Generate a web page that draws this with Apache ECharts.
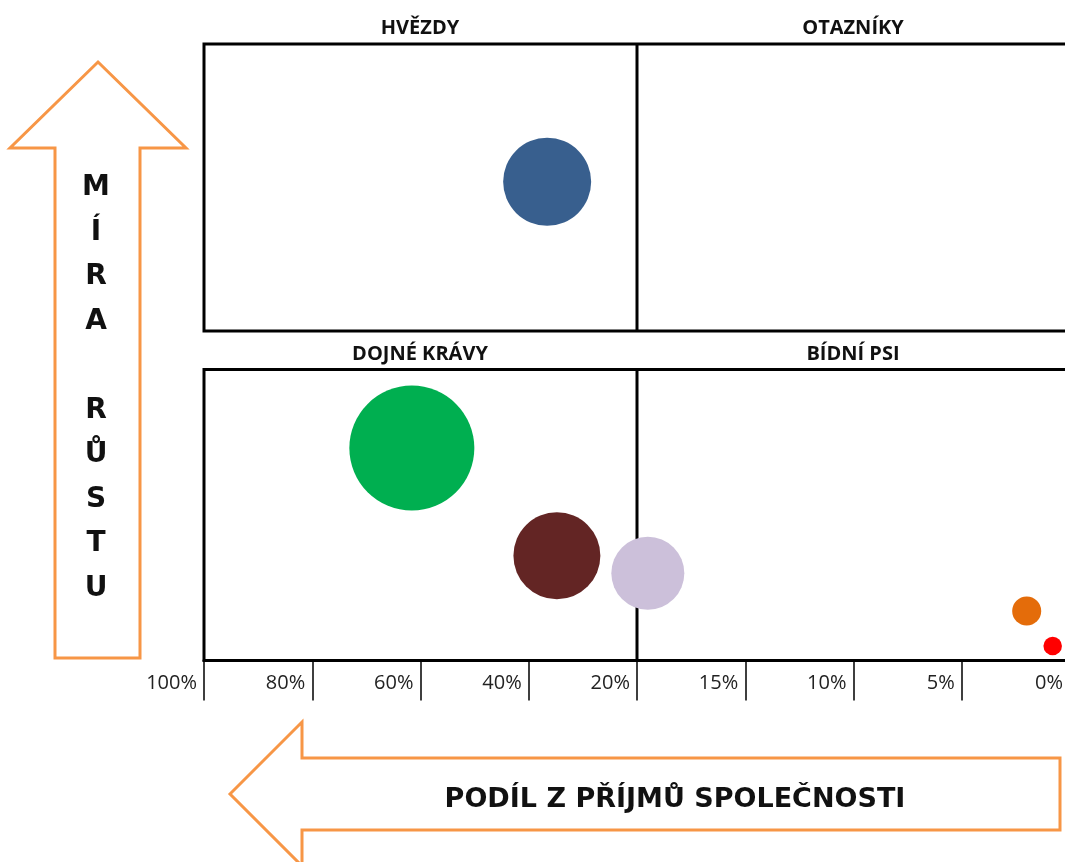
<!DOCTYPE html>
<html>
<head>
<meta charset="utf-8">
<script src="https://cdn.jsdelivr.net/npm/echarts@6/dist/echarts.min.js"></script>
<style>
  html, body { margin: 0; padding: 0; background: #fff; }
  #chart { width: 1065px; height: 862px; }
</style>
</head>
<body>
<div id="chart"></div>
<script>
// share of company revenue (%) at each x tick, left to right (piecewise scale)
const shareTicks = [100, 80, 60, 40, 20, 15, 10, 5, 0];
const quadrantNames = ['HVĚZDY', 'OTAZNÍKY', 'DOJNÉ KRÁVY', 'BÍDNÍ PSI'];

// bubbles: share (%), growth (%), weight (bubble area)
const bubbleShare  = [36.6, 61.6, 34.8, 19.5, 2.0, 0.8];
const bubbleGrowth = [15.2, 7.3, 3.6, 3.0, 1.7, 0.5];
const bubbleWeight = [49.6, 100, 48.4, 34.1, 5.4, 2.2];
const bubbleColors = ['#385F8E', '#00AF50', '#632524', '#CCC0DA', '#E46C0A', '#FF0000'];

const growthTop = [10, 20];
const growthBottom = [0, 10];
const splitShare = 20;

const ORANGE = '#F79646';
const FONT = '"Open Sans", sans-serif';

// map a share value onto the evenly spaced tick index
function shareToPos(s) {
  for (let i = 0; i < shareTicks.length - 1; i++) {
    const a = shareTicks[i], b = shareTicks[i + 1];
    if (s <= a && s >= b) return i + (a - s) / (a - b);
  }
  return s > shareTicks[0] ? 0 : shareTicks.length - 1;
}

const topData = [], bottomData = [];
bubbleShare.forEach((s, i) => {
  const item = {
    value: [shareToPos(s), bubbleGrowth[i], bubbleWeight[i]],
    itemStyle: { color: bubbleColors[i], opacity: 1 }
  };
  (bubbleGrowth[i] >= growthTop[0] ? topData : bottomData).push(item);
});

const chart = echarts.init(document.getElementById('chart'));

const xBase = {
  type: 'value',
  min: 0,
  max: shareTicks.length - 1,
  interval: 1,
  splitLine: { show: false }
};

function divider(xi, range) {
  const p = shareToPos(splitShare);
  return {
    type: 'line',
    xAxisIndex: xi,
    yAxisIndex: xi,
    data: [[p, range[0]], [p, range[1]]],
    symbol: 'none',
    silent: true,
    z: 1,
    lineStyle: { color: '#000', width: 3 }
  };
}

function title(text, x, y) {
  return {
    type: 'text', x: x, y: y, silent: true,
    style: { text: text, font: 'bold 20px ' + FONT, fill: '#111', align: 'center', verticalAlign: 'middle' }
  };
}

// grid runs a few px past the right edge, so its right border is cut off
const gridBase = {
  left: 204, width: 866, show: true, borderColor: '#000', borderWidth: 3,
  backgroundColor: '#fff', containLabel: false, outerBoundsMode: 'none'
};

const option = {
  animation: false,
  grid: [
    Object.assign({}, gridBase, { top: 44, height: 287 }),
    Object.assign({}, gridBase, { top: 369.5, height: 291 })
  ],
  xAxis: [
    Object.assign({}, xBase, { gridIndex: 0, show: false }),
    Object.assign({}, xBase, {
      gridIndex: 1,
      axisLine: { show: true, lineStyle: { color: '#000', width: 3 } },
      axisTick: { show: true, length: 40, lineStyle: { color: '#000', width: 1.5 } },
      axisLabel: {
        show: true,
        showMinLabel: true,
        showMaxLabel: true,
        hideOverlap: false,
        formatter: v => shareTicks[v] + '%',
        fontFamily: FONT,
        fontSize: 20,
        color: '#222',
        align: 'right',
        verticalAlign: 'middle',
        margin: 23,
        padding: [0, 7, 0, 0]
      }
    })
  ],
  yAxis: [
    { type: 'value', gridIndex: 0, min: growthTop[0], max: growthTop[1], show: false },
    { type: 'value', gridIndex: 1, min: growthBottom[0], max: growthBottom[1], show: false }
  ],
  series: [
    divider(0, growthTop),
    divider(1, growthBottom),
    {
      type: 'scatter', xAxisIndex: 0, yAxisIndex: 0, z: 3,
      symbolSize: v => 12.5 * Math.sqrt(v[2]),
      data: topData
    },
    {
      type: 'scatter', xAxisIndex: 1, yAxisIndex: 1, z: 3,
      symbolSize: v => 12.5 * Math.sqrt(v[2]),
      data: bottomData
    }
  ],
  graphic: [
    {
      type: 'polygon', silent: true,
      shape: { points: [[98, 62], [186, 148], [140, 148], [140, 658], [55, 658], [55, 148], [10, 148]] },
      style: { fill: '#fff', stroke: ORANGE, lineWidth: 3 }
    },
    {
      type: 'polygon', silent: true,
      shape: { points: [[230, 794], [302, 722], [302, 758], [1060, 758], [1060, 830], [302, 830], [302, 866]] },
      style: { fill: '#fff', stroke: ORANGE, lineWidth: 3 }
    },
    {
      type: 'text', x: 96, y: 388, silent: true,
      style: {
        text: 'M\nÍ\nR\nA\n \nR\nŮ\nS\nT\nU',
        font: 'bold 28px "DejaVu Sans", sans-serif',
        lineHeight: 44.5,
        fill: '#111',
        align: 'center',
        verticalAlign: 'middle'
      }
    },
    {
      type: 'text', x: 675, y: 800, silent: true,
      style: { text: 'PODÍL Z PŘÍJMŮ SPOLEČNOSTI', font: 'bold 27px "DejaVu Sans", sans-serif', fill: '#111', align: 'center', verticalAlign: 'middle' }
    },
    title(quadrantNames[0], 420, 28),
    title(quadrantNames[1], 853, 28),
    title(quadrantNames[2], 420, 354),
    title(quadrantNames[3], 853, 354)
  ]
};

chart.setOption(option);
window.addEventListener('resize', () => chart.resize());
</script>
</body>
</html>
